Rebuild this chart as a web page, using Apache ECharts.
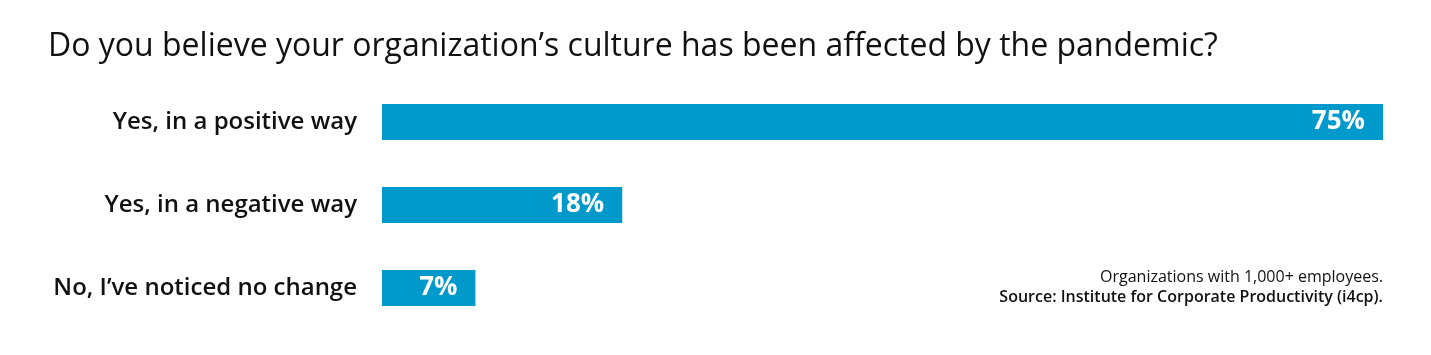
<!DOCTYPE html>
<html>
<head>
<meta charset="utf-8">
<script src="https://cdn.jsdelivr.net/npm/echarts@6/dist/echarts.min.js"></script>
<style>
html, body { margin: 0; padding: 0; background: #fff; }
#chart { width: 1431px; height: 355px; }
</style>
</head>
<body>
<div id="chart"></div>
<script>
// data
var categories = ['Yes, in a positive way', 'Yes, in a negative way', 'No, I\u2019ve noticed no change'];
var values = [75, 18, 7];
var titleText = 'Do you believe your organization\u2019s culture has been affected by the pandemic?';
var noteLines = ['Organizations with 1,000+ employees.', 'Source: Institute for Corporate Productivity (i4cp).'];

var myChart = echarts.init(document.getElementById('chart'));

var option = {
    backgroundColor: '#fff',
    animation: false,
    title: {
        text: titleText,
        left: 43,
        top: 26,
        textStyle: {
            fontFamily: 'Open Sans',
            fontWeight: 'normal',
            fontSize: 32,
            color: '#111'
        }
    },
    grid: {
        left: 382,
        right: 48,
        top: 80.5,
        bottom: 25.5
    },
    xAxis: {
        type: 'value',
        min: 0,
        max: 75,
        show: false
    },
    yAxis: {
        type: 'category',
        inverse: true,
        data: categories,
        axisLine: { show: false },
        axisTick: { show: false },
        axisLabel: {
            margin: 25,
            fontFamily: 'Open Sans',
            fontWeight: 600,
            fontSize: 24,
            color: '#111'
        }
    },
    series: [
        {
            type: 'bar',
            data: values,
            barWidth: 36,
            itemStyle: { color: '#0099cc' },
            label: {
                show: true,
                position: 'insideRight',
                distance: 18,
                formatter: '{c}%',
                fontFamily: 'Open Sans',
                fontWeight: 'bold',
                fontSize: 26,
                color: '#fff'
            }
        }
    ],
    graphic: [
        {
            type: 'text',
            right: 48,
            top: 269,
            style: {
                text: noteLines[0],
                fontFamily: 'Open Sans',
                fontSize: 16,
                fill: '#111'
            }
        },
        {
            type: 'text',
            right: 48,
            top: 289,
            style: {
                text: noteLines[1],
                fontFamily: 'Open Sans',
                fontWeight: 600,
                fontSize: 16,
                fill: '#111'
            }
        }
    ]
};

option && myChart.setOption(option);
</script>
</body>
</html>
